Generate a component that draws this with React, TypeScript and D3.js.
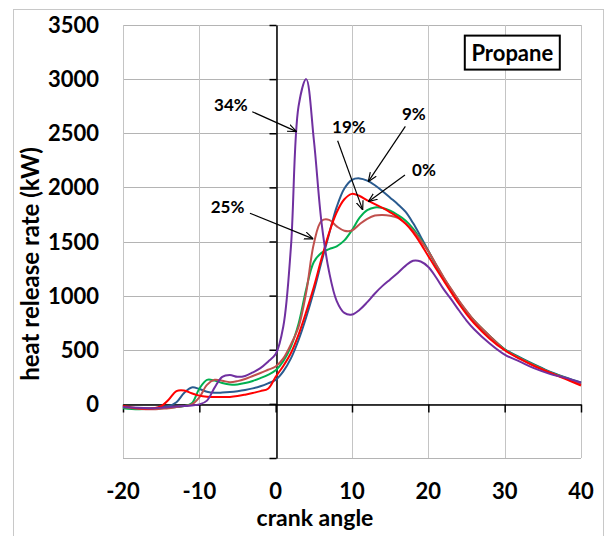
import React, { useEffect, useRef } from 'react';
import * as d3 from 'd3';

// crank angle samples (deg) shared by all curves
const angles = [-20, -18, -16, -15, -14, -13, -12, -11, -10, -9, -8, -7, -6, -5, -4, -3, -2, -1,
  0, 1, 2, 3, 4, 5, 6, 7, 8, 9, 10, 11, 12, 13, 14, 15, 16, 17, 18, 19, 20, 21, 22, 23, 24, 25, 26,
  28, 30, 32, 34, 36, 38, 40];

// heat release rate (kW)
const hrr0 = [-20, -40, -40, -20, 40, 118, 124, 98, 76, 66, 64, 63, 64, 72, 85, 100, 118, 140,
  250, 350, 470, 640, 850, 1080, 1340, 1580, 1770, 1890, 1940, 1920, 1880, 1845, 1810, 1770, 1725, 1665, 1585, 1480, 1365, 1250, 1140, 1030, 925, 830, 745,
  605, 495, 415, 345, 285, 230, 170];
const hrr9 = [-30, -40, -40, -30, -20, 15, 100, 152, 138, 112, 102, 104, 109, 117, 128, 143, 163, 190,
  222, 300, 420, 590, 800, 1040, 1310, 1570, 1820, 1990, 2070, 2083, 2062, 2020, 1965, 1905, 1845, 1775, 1670, 1545, 1415, 1280, 1160, 1050, 945, 850, 765,
  625, 505, 430, 360, 295, 245, 198];
const hrr19 = [-40, -50, -45, -40, -35, -30, -20, 5, 140, 222, 215, 192, 178, 180, 192, 212, 238, 268,
  310, 395, 530, 740, 1060, 1310, 1395, 1430, 1455, 1510, 1605, 1720, 1790, 1815, 1810, 1785, 1745, 1695, 1620, 1520, 1410, 1285, 1165, 1055, 950, 855, 770,
  630, 505, 425, 355, 290, 240, 190];
const hrr25 = [-30, -45, -50, -45, -40, -30, -20, -5, 60, 175, 222, 214, 200, 210, 230, 258, 285, 315,
  345, 420, 550, 710, 1030, 1480, 1690, 1700, 1640, 1600, 1602, 1660, 1710, 1740, 1745, 1738, 1718, 1668, 1600, 1510, 1410, 1290, 1170, 1060, 955, 860, 770,
  630, 500, 420, 350, 288, 235, 182];
const hrr34 = [-30, -35, -40, -35, -30, -25, -20, -15, -5, 30, 150, 250, 266, 250, 258, 290, 330, 390,
  460, 715, 1450, 2750, 3000, 2440, 1680, 1220, 950, 840, 825, 870, 940, 1020, 1090, 1150, 1210, 1275, 1322, 1315, 1265, 1170, 1060, 965, 865, 770, 690,
  560, 455, 390, 325, 275, 240, 195];

const seriesData = [hrr9, hrr19, hrr25, hrr0, hrr34];
const seriesColors = ['#2A5B8F', '#00B050', '#C0504D', '#FF0000', '#7030A0'];

const xTicks = [-20, -10, 0, 10, 20, 30, 40];
const yTicks = [-500, 0, 500, 1000, 1500, 2000, 2500, 3000, 3500];
const yTickLabels = ['', '0', '500', '1000', '1500', '2000', '2500', '3000', '3500'];

// annotations (label at, arrow from -> to), in data units
const noteText = ['34%', '25%', '19%', '9%', '0%'];
const noteX = [-5.86, -6.31, 9.6, 18.1, 19.43];
const noteY = [2705, 1767, 2503, 2621, 2106];
const arrowFromX = [-3.07, -3.37, 8.12, 16.99, 16.94];
const arrowFromY = [2699, 1761, 2431, 2563, 2115];
const arrowToX = [2.75, 4.93, 11.4, 12.13, 12.13];
const arrowToY = [2515, 1524, 1792, 2053, 1868];

const FONT = 'Lato, "Open Sans", sans-serif';

export default function App() {
  const ref = useRef<SVGSVGElement>(null);

  useEffect(() => {
    const margin = { top: 25, right: 24, bottom: 78, left: 123 },
      width = 605 - margin.left - margin.right,
      height = 536 - margin.top - margin.bottom;

    const root = d3.select(ref.current);
    root.selectAll('*').remove();

    // outer chart frame
    root.append('rect')
      .attr('x', 13.5).attr('y', 9.5).attr('width', 590).attr('height', 600)
      .attr('fill', 'none').attr('stroke', '#c8c8c8');

    root.append('defs').append('marker')
      .attr('id', 'arrow')
      .attr('viewBox', '0 0 10 10')
      .attr('refX', 10).attr('refY', 5)
      .attr('markerWidth', 9).attr('markerHeight', 9)
      .attr('markerUnits', 'userSpaceOnUse')
      .attr('orient', 'auto')
      .append('path')
      .attr('d', 'M0,1 L10,5 L0,9')
      .attr('fill', 'none').attr('stroke', '#000').attr('stroke-width', 1.3);

    const svg = root.append('g').attr('transform', `translate(${margin.left}, ${margin.top})`);

    const x = d3.scaleLinear().domain([-20, 40]).range([0, width]);
    const y = d3.scaleLinear().domain([-500, 3500]).range([height, 0]);

    // grid
    svg.append('g').selectAll('line').data(yTicks).enter().append('line')
      .attr('x1', 0).attr('x2', width)
      .attr('y1', (d) => Math.round(y(d)) + 0.5).attr('y2', (d) => Math.round(y(d)) + 0.5)
      .attr('stroke', '#b4b4b4');
    svg.append('g').selectAll('line').data(xTicks).enter().append('line')
      .attr('x1', (d) => Math.round(x(d)) + 0.5).attr('x2', (d) => Math.round(x(d)) + 0.5)
      .attr('y1', 0).attr('y2', height)
      .attr('stroke', '#c4c4c4');

    // axes crossing at the origin
    const xAxis = svg.append('g').attr('transform', `translate(0, ${Math.round(y(0)) + 0.5})`)
      .call(d3.axisBottom(x).tickValues(xTicks).tickSize(8).tickSizeOuter(0).tickFormat(() => ''));
    const yAxis = svg.append('g').attr('transform', `translate(${Math.round(x(0)) + 0.5}, 0)`)
      .call(d3.axisLeft(y).tickValues(yTicks).tickSize(7).tickSizeOuter(0).tickFormat(() => ''));
    [xAxis, yAxis].forEach((a) => {
      a.selectAll('path, line').attr('stroke', '#000').attr('stroke-width', 1.5);
    });

    // tick labels
    svg.append('g').selectAll('text').data(yTicks).enter().append('text')
      .attr('x', -24).attr('y', (d) => y(d) + 8)
      .attr('text-anchor', 'end')
      .style('font-family', FONT).style('font-weight', 'bold').style('font-size', '22px')
      .text((d, i) => yTickLabels[i]);
    svg.append('g').selectAll('text').data(xTicks).enter().append('text')
      .attr('x', (d) => x(d)).attr('y', height + 41)
      .attr('text-anchor', 'middle')
      .style('font-family', FONT).style('font-weight', 'bold').style('font-size', '22px')
      .text((d) => String(d));

    // axis titles
    svg.append('text')
      .attr('x', 192).attr('y', height + 68)
      .attr('text-anchor', 'middle')
      .style('font-family', FONT).style('font-weight', 'bold').style('font-size', '23px')
      .text('crank angle');
    svg.append('text')
      .attr('transform', `translate(${-84}, ${239}) rotate(-90)`)
      .attr('text-anchor', 'middle')
      .style('font-family', FONT).style('font-weight', 'bold').style('font-size', '24px')
      .text('heat release rate (kW)');

    // curves
    const line = d3.line<number>()
      .x((d, i) => x(angles[i]))
      .y((d) => y(d))
      .curve(d3.curveCatmullRom.alpha(0.5));

    svg.append('g').selectAll('path').data(seriesData).enter().append('path')
      .attr('d', (d) => line(d))
      .attr('fill', 'none')
      .attr('stroke', (d, i) => seriesColors[i])
      .attr('stroke-width', 2);

    // annotations
    svg.append('g').selectAll('line').data(noteText).enter().append('line')
      .attr('x1', (d, i) => x(arrowFromX[i])).attr('y1', (d, i) => y(arrowFromY[i]))
      .attr('x2', (d, i) => x(arrowToX[i])).attr('y2', (d, i) => y(arrowToY[i]))
      .attr('stroke', '#000').attr('stroke-width', 1.2)
      .attr('marker-end', 'url(#arrow)');
    svg.append('g').selectAll('text').data(noteText).enter().append('text')
      .attr('x', (d, i) => x(noteX[i])).attr('y', (d, i) => y(noteY[i]))
      .attr('text-anchor', 'middle')
      .style('font-family', FONT).style('font-weight', 'bold').style('font-size', '17px')
      .text((d) => d);

    // title box
    const box = svg.append('g').attr('transform', `translate(${x(31)}, ${y(3245)})`);
    box.append('rect')
      .attr('x', -47.5).attr('y', -17).attr('width', 95).attr('height', 34)
      .attr('fill', '#fff').attr('stroke', '#000').attr('stroke-width', 2);
    box.append('text')
      .attr('x', 0).attr('y', 8)
      .attr('text-anchor', 'middle')
      .style('font-family', FONT).style('font-weight', 'bold').style('font-size', '22px')
      .text('Propane');
  }, []);

  return (
    <svg ref={ref} width={605} height={536} style={{ position: 'absolute', left: 0, top: 0, background: '#fff' }} />
  );
}
